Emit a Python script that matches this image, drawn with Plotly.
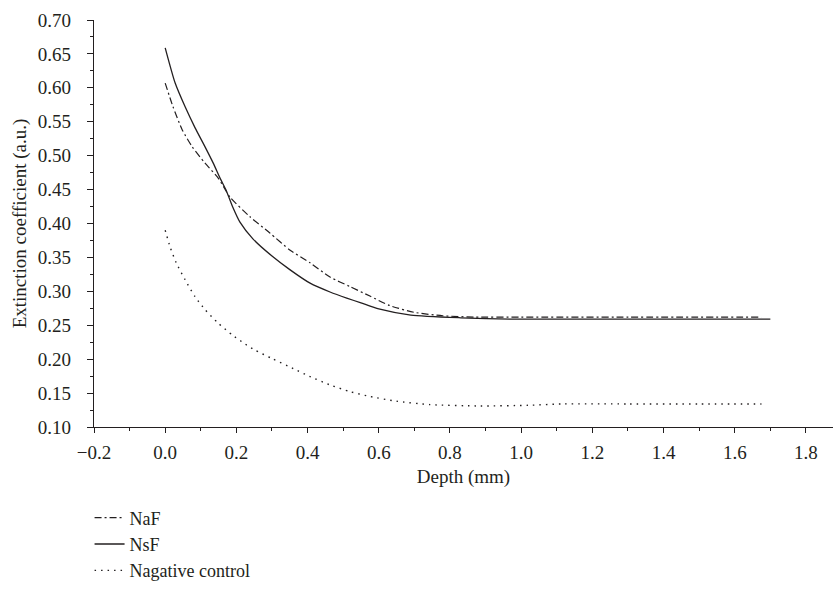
import plotly.graph_objects as go

# Data
naf_x = [0, 0.022, 0.048, 0.076, 0.112, 0.149, 0.182, 0.238, 0.294, 0.35, 0.407, 0.463, 0.519, 0.575, 0.631, 0.70, 0.78, 0.87, 1.0, 1.3, 1.675]
naf_y = [0.607, 0.572, 0.538, 0.513, 0.489, 0.467, 0.439, 0.410, 0.386, 0.361, 0.342, 0.321, 0.307, 0.293, 0.279, 0.269, 0.264, 0.262, 0.262, 0.262, 0.262]

nsf_x = [0, 0.028, 0.056, 0.084, 0.112, 0.135, 0.154, 0.172, 0.19, 0.21, 0.247, 0.30, 0.35, 0.407, 0.463, 0.51, 0.55, 0.60, 0.69, 0.83, 0.97, 1.2, 1.45, 1.7]
nsf_y = [0.659, 0.607, 0.572, 0.541, 0.513, 0.489, 0.467, 0.448, 0.424, 0.402, 0.377, 0.352, 0.332, 0.312, 0.299, 0.290, 0.283, 0.274, 0.265, 0.261, 0.259, 0.259, 0.259, 0.259]

neg_x = [0, 0.014, 0.031, 0.056, 0.084, 0.112, 0.149, 0.19, 0.22, 0.25, 0.30, 0.36, 0.40, 0.463, 0.52, 0.575, 0.65, 0.743, 0.884, 1.02, 1.117, 1.3, 1.5, 1.675]
neg_y = [0.390, 0.365, 0.342, 0.317, 0.292, 0.273, 0.253, 0.235, 0.224, 0.214, 0.201, 0.186, 0.176, 0.162, 0.152, 0.145, 0.138, 0.133, 0.131, 0.132, 0.134, 0.134, 0.134, 0.134]

x_ticks = [-0.2, 0.0, 0.2, 0.4, 0.6, 0.8, 1.0, 1.2, 1.4, 1.6, 1.8]
y_ticks = [0.10, 0.15, 0.20, 0.25, 0.30, 0.35, 0.40, 0.45, 0.50, 0.55, 0.60, 0.65, 0.70]

INK = "#231f20"
FONT = "Liberation Serif"
FS = 19

fig = go.Figure()
fig.add_trace(go.Scatter(x=naf_x, y=naf_y, mode="lines", name="NaF",
                         line=dict(color=INK, width=1.2, dash="7px,3px,2px,3px", shape="spline", smoothing=0.6)))
fig.add_trace(go.Scatter(x=nsf_x, y=nsf_y, mode="lines", name="NsF",
                         line=dict(color=INK, width=1.3, shape="spline", smoothing=0.6)))
fig.add_trace(go.Scatter(x=neg_x, y=neg_y, mode="lines", name="Nagative control",
                         line=dict(color=INK, width=1.4, dash="1.5px,5px", shape="spline", smoothing=0.6)))

x_labels = [("\u2212" + f"{abs(v):.1f}") if v < 0 else f"{v:.1f}" for v in x_ticks]
y_labels = [f"{v:.2f}" for v in y_ticks]

fig.update_layout(
    width=833, height=590,
    margin=dict(l=94, r=0, t=20, b=163),
    paper_bgcolor="white", plot_bgcolor="white",
    font=dict(family=FONT, size=FS, color=INK),
    showlegend=True,
    legend=dict(x=-0.006, y=-0.399, xanchor="left", yanchor="bottom",
                font=dict(family=FONT, size=18, color=INK),
                tracegroupgap=0, itemwidth=30, bgcolor="rgba(0,0,0,0)"),
    xaxis=dict(range=[-0.2, 1.876], tickmode="array", tickvals=x_ticks, ticktext=x_labels,
               showline=True, linecolor=INK, linewidth=1.4, showgrid=False, zeroline=False,
               ticks="outside", ticklen=5, tickwidth=1.2, tickcolor=INK, ticklabelstandoff=3,
               minor=dict(dtick=0.1, tick0=0, ticks="outside", ticklen=3, tickwidth=1, tickcolor=INK),
               title=dict(text="Depth (mm)", font=dict(family=FONT, size=FS, color=INK), standoff=7)),
    yaxis=dict(range=[0.10, 0.70], tickmode="array", tickvals=y_ticks, ticktext=y_labels,
               showline=True, linecolor=INK, linewidth=1.4, showgrid=False, zeroline=False,
               ticks="outside", ticklen=6, tickwidth=1.2, tickcolor=INK, ticklabelstandoff=12,
               minor=dict(dtick=0.025, tick0=0.1, ticks="outside", ticklen=3, tickwidth=1, tickcolor=INK),
               title=dict(text="Extinction coefficient (a.u.)", font=dict(family=FONT, size=FS, color=INK), standoff=6)),
)

fig.write_html("out.html", config={"displayModeBar": False},
               post_script="document.body.style.margin='0px';")
